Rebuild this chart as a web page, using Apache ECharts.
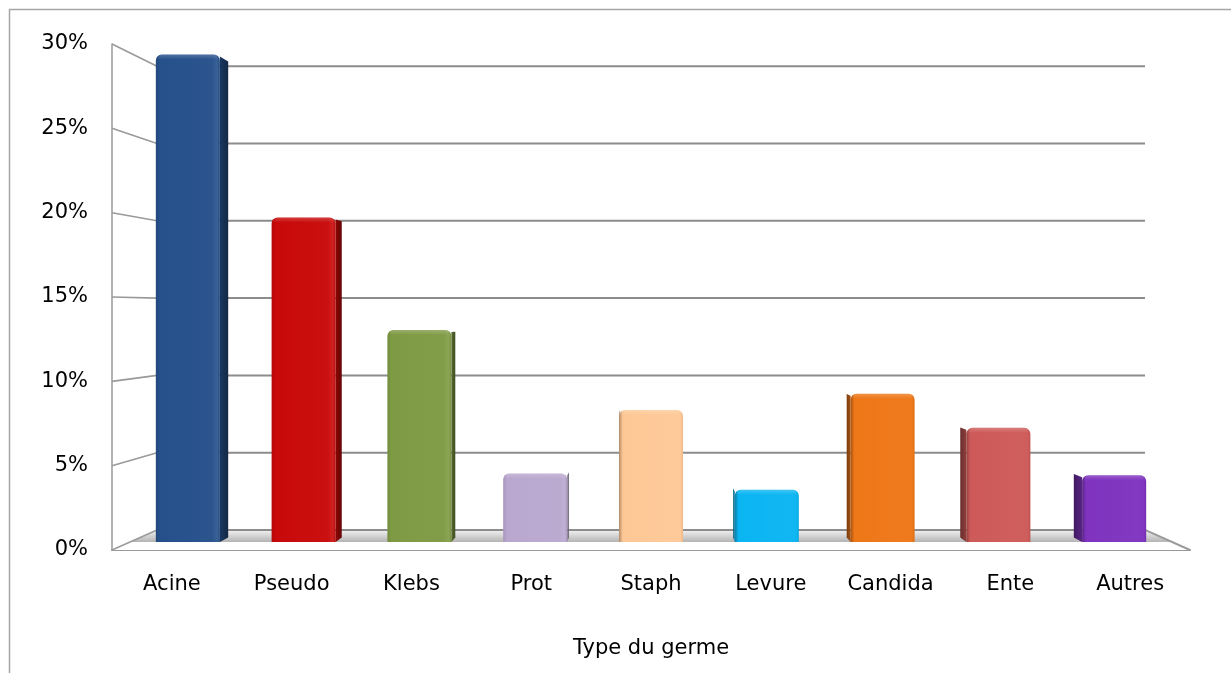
<!DOCTYPE html>
<html>
<head>
<meta charset="utf-8">
<script src="https://cdn.jsdelivr.net/npm/echarts@6/dist/echarts.min.js"></script>
<style>
  html, body { margin: 0; padding: 0; background: #ffffff; }
  #chart { width: 1231px; height: 673px; }
</style>
</head>
<body>
<div id="chart"></div>
<script>
// Germ types and their share of isolates
const categories = ['Acine', 'Pseudo', 'Klebs', 'Prot', 'Staph', 'Levure', 'Candida', 'Ente', 'Autres'];
const shares = [0.299, 0.199, 0.130, 0.042, 0.081, 0.032, 0.091, 0.070, 0.041];
const yTicks = [0, 0.05, 0.10, 0.15, 0.20, 0.25, 0.30];

const barColors = ['#25508a', '#c80909', '#7e9a43', '#b9a7cf', '#fec896', '#0ab5f2', '#ee7717', '#cd5a58', '#7f33bf'];

// Pseudo-3D view: every depth is a step toward a vanishing point.
const FONT = 'DejaVu Sans';
const VY = 310;          // vertical position of the vanishing point
const T_WALL = 0.0835;   // depth of the back wall
const T_BAR_FRONT = 0.0333;
const T_BAR_BACK = 0.052;
const BAR_RATIO = 0.553;

function proj(p, t, vx) {
  return [p[0] + (vx - p[0]) * t, p[1] + (VY - p[1]) * t];
}

// amount > 0 mixes toward black, amount < 0 toward white
function shade(color, amount) {
  const c = echarts.color.parse(color);
  const target = amount > 0 ? 0 : 255;
  const k = Math.abs(amount);
  const r = Math.round(c[0] + (target - c[0]) * k);
  const g = Math.round(c[1] + (target - c[1]) * k);
  const b = Math.round(c[2] + (target - c[2]) * k);
  return 'rgb(' + r + ',' + g + ',' + b + ')';
}

const chart = echarts.init(document.getElementById('chart'), null, { renderer: 'canvas' });

function renderWalls(params, api) {
  const cs = params.coordSys;
  const vx = cs.x + cs.width / 2;
  const v = api.value(1);
  const y = api.coord([0, v])[1];
  const fl = [cs.x, y];
  const fr = [cs.x + cs.width, y];
  const bl = proj(fl, T_WALL, vx);
  const br = proj(fr, T_WALL, vx);
  const children = [];
  if (v === 0) {
    const sl = proj(fl, T_BAR_FRONT, vx);
    const sr = proj(fr, T_BAR_FRONT, vx);
    children.push({
      type: 'polygon',
      shape: { points: [fl, fr, br, bl] },
      style: { fill: '#ffffff', stroke: null }
    });
    children.push({
      type: 'polygon',
      shape: { points: [sl, sr, br, bl] },
      style: {
        fill: new echarts.graphic.LinearGradient(0, 0, 0, 1, [
          { offset: 0, color: '#f2f2f2' },
          { offset: 0.55, color: '#d0d0d0' },
          { offset: 1, color: '#b4b4b4' }
        ])
      }
    });
    children.push({
      type: 'line',
      shape: { x1: fr[0], y1: fr[1], x2: br[0], y2: br[1] },
      style: { stroke: '#9a9a9a', lineWidth: 2 }
    });
  }
  children.push({
    type: 'line',
    shape: { x1: fl[0], y1: fl[1], x2: bl[0], y2: bl[1] },
    style: { stroke: '#9a9a9a', lineWidth: 1.6 }
  });
  children.push({
    type: 'line',
    shape: { x1: bl[0], y1: bl[1], x2: br[0], y2: br[1] },
    style: { stroke: '#8c8c8c', lineWidth: 2 }
  });
  return { type: 'group', children: children };
}

function renderBar(params, api) {
  const cs = params.coordSys;
  const vx = cs.x + cs.width / 2;
  const i = api.value(0);
  const v = api.value(1);
  const top = api.coord([i, v]);
  const base = api.coord([i, 0]);
  const w = api.size([1, 0])[0] * BAR_RATIO;
  const xl = top[0] - w / 2;
  const xr = top[0] + w / 2;
  const a = proj([xl, top[1]], T_BAR_FRONT, vx);
  const b = proj([xr, base[1]], T_BAR_FRONT, vx);
  const color = barColors[params.dataIndex];
  const rightSide = top[0] < vx;
  const ex = rightSide ? xr : xl;
  const s1 = proj([ex, top[1]], T_BAR_FRONT, vx);
  const s2 = proj([ex, top[1]], T_BAR_BACK, vx);
  const s3 = proj([ex, base[1]], T_BAR_BACK, vx);
  const s4 = proj([ex, base[1]], T_BAR_FRONT, vx);
  s1[1] += 2; s2[1] += 2;
  const side = {
    type: 'polygon',
    shape: { points: [s1, s2, s3, s4] },
    style: {
      fill: new echarts.graphic.LinearGradient(rightSide ? 0 : 1, 0, rightSide ? 1 : 0, 0, [
        { offset: 0, color: shade(color, 0.3) },
        { offset: 1, color: shade(color, 0.5) }
      ])
    }
  };
  const front = {
    type: 'rect',
    shape: { x: a[0], y: a[1], width: b[0] - a[0], height: b[1] - a[1], r: [6, 6, 0, 0] },
    style: {
      fill: new echarts.graphic.LinearGradient(0, 0, 1, 0, [
        { offset: 0, color: shade(color, rightSide ? 0.1 : 0.3) },
        { offset: 0.06, color: color },
        { offset: 0.88, color: shade(color, -0.03) },
        { offset: 0.96, color: shade(color, rightSide ? -0.1 : -0.02) },
        { offset: 1, color: shade(color, 0.08) }
      ])
    }
  };
  const topShine = {
    type: 'rect',
    shape: { x: a[0] + 2, y: a[1], width: b[0] - a[0] - 4, height: 5, r: [5, 5, 0, 0] },
    style: {
      fill: new echarts.graphic.LinearGradient(0, 0, 0, 1, [
        { offset: 0, color: 'rgba(255,255,255,0.2)' },
        { offset: 1, color: 'rgba(255,255,255,0)' }
      ])
    }
  };
  return { type: 'group', children: [side, front, topShine] };
}

const textStyle = { fontFamily: FONT, fontSize: 21, color: '#000000' };

chart.setOption({
  animation: false,
  backgroundColor: '#ffffff',
  graphic: [{
    type: 'rect',
    silent: true,
    shape: { x: 9.5, y: 9.5, width: 1260, height: 700 },
    style: { fill: 'none', stroke: '#a6a6a6', lineWidth: 1.5 },
    z: -1
  }],
  grid: { left: 112, right: 41, top: 44, bottom: 123, containLabel: false },
  xAxis: {
    type: 'category',
    data: categories,
    axisLine: { show: true, lineStyle: { color: '#9a9a9a', width: 2 } },
    axisTick: { show: false },
    axisLabel: Object.assign({ margin: 24, interval: 0 }, textStyle),
    splitLine: { show: false },
    name: 'Type du germe',
    nameLocation: 'middle',
    nameGap: 88,
    nameTextStyle: textStyle
  },
  yAxis: {
    type: 'value',
    min: 0,
    max: 0.3,
    interval: 0.05,
    axisLine: { show: true, lineStyle: { color: '#a0a0a0', width: 1.6 } },
    axisTick: { show: false },
    splitLine: { show: false },
    axisLabel: Object.assign({
      margin: 24,
      formatter: function (v) { return Math.round(v * 100) + '%'; }
    }, textStyle)
  },
  series: [
    {
      type: 'custom',
      name: 'walls',
      silent: true,
      z: 1,
      renderItem: renderWalls,
      data: yTicks.map(function (v) { return [0, v]; })
    },
    {
      type: 'custom',
      name: 'Type du germe',
      z: 3,
      renderItem: renderBar,
      data: shares.map(function (v, i) { return [i, v]; })
    }
  ]
});
</script>
</body>
</html>
